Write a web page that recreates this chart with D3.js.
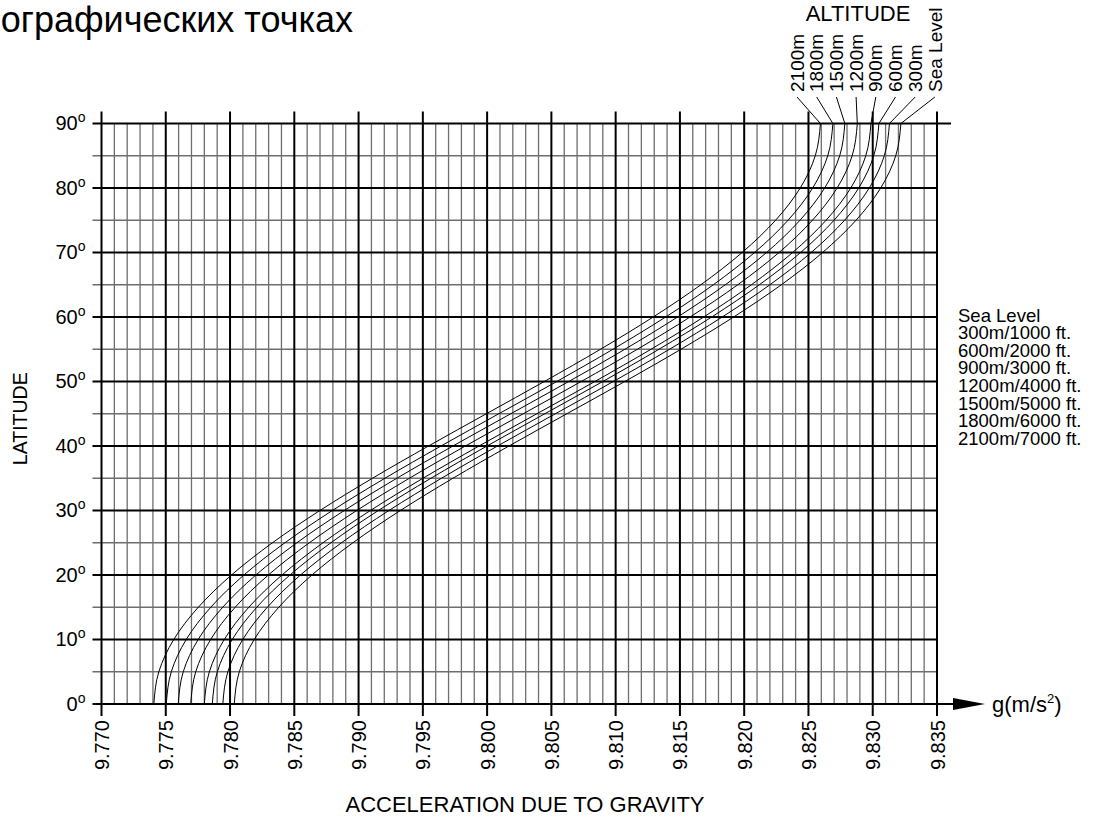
<!DOCTYPE html>
<meta charset="utf-8">
<style>
    body { margin: 0; background: #fff; }
    svg { font-family: "Liberation Sans", Arial, sans-serif; }
    .major { stroke: #000; stroke-width: 2px; }
    .minor { stroke: #6e6e6e; stroke-width: 1.3px; }
    .curve { fill: none; stroke: #000; stroke-width: 1px; }
    .leader { stroke: #000; stroke-width: 1px; }
</style>
<body>
<svg id="chart" width="1099" height="818"></svg>
<script src="https://d3js.org/d3.v7.min.js"></script>
<script>
    // latitude (deg) at which each curve value was read
    var latitudes = [0, 5, 10, 15, 20, 25, 30, 35, 40, 45, 50, 55, 60, 65, 70, 75, 80, 85, 90];

    // g (m/s2)
    var gSeaLevel = [9.78033, 9.78072, 9.78188, 9.78379, 9.78637, 9.78956, 9.79325, 9.79734, 9.80170, 9.80620, 9.81071, 9.81508, 9.81918, 9.82289, 9.82610, 9.82870, 9.83062, 9.83179, 9.83219];
    var g300  = [9.77944, 9.77983, 9.78099, 9.78290, 9.78548, 9.78867, 9.79236, 9.79645, 9.80081, 9.80531, 9.80982, 9.81419, 9.81829, 9.82200, 9.82521, 9.82781, 9.82973, 9.83090, 9.83130];
    var g600  = [9.77862, 9.77901, 9.78017, 9.78208, 9.78466, 9.78785, 9.79154, 9.79563, 9.79999, 9.80449, 9.80900, 9.81337, 9.81747, 9.82118, 9.82439, 9.82699, 9.82891, 9.83008, 9.83048];
    var g900  = [9.77800, 9.77839, 9.77955, 9.78146, 9.78404, 9.78723, 9.79092, 9.79501, 9.79937, 9.80387, 9.80838, 9.81275, 9.81685, 9.82056, 9.82377, 9.82637, 9.82829, 9.82946, 9.82986];
    var g1200 = [9.77694, 9.77733, 9.77849, 9.78040, 9.78298, 9.78617, 9.78986, 9.79395, 9.79831, 9.80281, 9.80732, 9.81169, 9.81579, 9.81950, 9.82271, 9.82531, 9.82723, 9.82840, 9.82880];
    var g1500 = [9.77597, 9.77636, 9.77752, 9.77943, 9.78201, 9.78520, 9.78889, 9.79298, 9.79734, 9.80184, 9.80635, 9.81072, 9.81482, 9.81853, 9.82174, 9.82434, 9.82626, 9.82743, 9.82783];
    var g1800 = [9.77504, 9.77543, 9.77659, 9.77850, 9.78108, 9.78427, 9.78796, 9.79205, 9.79641, 9.80091, 9.80542, 9.80979, 9.81389, 9.81760, 9.82081, 9.82341, 9.82533, 9.82650, 9.82690];
    var g2100 = [9.77407, 9.77446, 9.77562, 9.77753, 9.78011, 9.78330, 9.78699, 9.79108, 9.79544, 9.79994, 9.80445, 9.80882, 9.81292, 9.81663, 9.81984, 9.82244, 9.82436, 9.82553, 9.82593];

    var altitudeLabels = ["2100m", "1800m", "1500m", "1200m", "900m", "600m", "300m", "Sea Level"];
    var legendLabels = ["Sea Level", "300m/1000 ft.", "600m/2000 ft.", "900m/3000 ft.",
        "1200m/4000 ft.", "1500m/5000 ft.", "1800m/6000 ft.", "2100m/7000 ft."];

    var xTicks = [9.770, 9.775, 9.780, 9.785, 9.790, 9.795, 9.800, 9.805, 9.810, 9.815, 9.820, 9.825, 9.830, 9.835];
    var yTicks = [0, 10, 20, 30, 40, 50, 60, 70, 80, 90];

    var curves = [g2100, g1800, g1500, g1200, g900, g600, g300, gSeaLevel];

    var svg = d3.select("#chart");

    var x = d3.scaleLinear().domain([9.770, 9.835]).range([101.5, 937]);
    var y = d3.scaleLinear().domain([0, 90]).range([704, 123.5]);

    var x0 = x.range()[0], x1 = x.range()[1];

    // minor grid: every 0.001 and every 5 degrees
    var xMinor = d3.ticks(9.770, 9.835, 65).filter(function(d) {
        return Math.abs(Math.round(d * 1000) % 5) !== 0;
    });
    var yMinor = d3.range(5, 90, 10);

    var grid = svg.append("g");
    grid.selectAll(".vminor")
        .data(xMinor)
        .enter().append("line")
        .attr("class", "minor")
        .attr("x1", function(d) { return x(d); })
        .attr("x2", function(d) { return x(d); })
        .attr("y1", y(0))
        .attr("y2", y(90));

    grid.selectAll(".hminor")
        .data(yMinor)
        .enter().append("line")
        .attr("class", "minor")
        .attr("x1", x0 - 9)
        .attr("x2", x1)
        .attr("y1", function(d) { return y(d); })
        .attr("y2", function(d) { return y(d); });

    grid.selectAll(".hmajor")
        .data(yTicks)
        .enter().append("line")
        .attr("class", "major")
        .attr("x1", x0 - 9)
        .attr("x2", function(d) { return d === 90 ? x1 + 14 : (d === 0 ? x1 + 20 : x1); })
        .attr("y1", function(d) { return y(d); })
        .attr("y2", function(d) { return y(d); });

    grid.selectAll(".vmajor")
        .data(xTicks)
        .enter().append("line")
        .attr("class", "major")
        .attr("x1", function(d) { return x(d); })
        .attr("x2", function(d) { return x(d); })
        .attr("y1", y(90) - 12)
        .attr("y2", y(0) + 12);

    // arrow at the end of the g axis
    svg.append("path")
        .attr("d", "M" + (x1 + 16) + "," + (y(0) - 6) + "L" + (x1 + 48) + "," + y(0) + "L" + (x1 + 16) + "," + (y(0) + 6) + "Z")
        .attr("fill", "#000");

    var gLabel = svg.append("text")
        .attr("x", x1 + 55)
        .attr("y", y(0) + 8)
        .style("font-size", "22px")
        .text("g(m/s");
    gLabel.append("tspan").attr("dy", -9).style("font-size", "13px").text("2");
    gLabel.append("tspan").attr("dy", 9).style("font-size", "22px").text(")");

    // curves
    var line = d3.line()
        .x(function(d) { return x(d[0]); })
        .y(function(d) { return y(d[1]); })
        .curve(d3.curveMonotoneY);

    svg.append("g").selectAll("path")
        .data(curves)
        .enter().append("path")
        .attr("class", "curve")
        .attr("d", function(g) { return line(g.map(function(v, i) { return [v, latitudes[i]]; })); });

    // x axis labels
    var xAxis = d3.axisBottom(x).tickValues(xTicks).tickSize(0).tickFormat(d3.format(".3f"));
    var gx = svg.append("g")
        .attr("transform", "translate(0," + y(0) + ")")
        .call(xAxis);
    gx.select(".domain").remove();
    gx.selectAll("text")
        .attr("transform", "rotate(-90)")
        .attr("text-anchor", "end")
        .attr("x", -16)
        .attr("y", 0)
        .attr("dy", ".35em")
        .attr("fill", "#000")
        .style("font-size", "20px")
        .style("font-family", "Liberation Sans, Arial, sans-serif");

    // y axis labels, degree drawn as a small raised "o"
    var yAxis = d3.axisLeft(y).tickValues(yTicks).tickSize(0).tickPadding(16)
        .tickFormat(function(d) { return d; });
    var gy = svg.append("g")
        .attr("transform", "translate(" + x0 + ",0)")
        .call(yAxis);
    gy.select(".domain").remove();
    gy.selectAll("text")
        .attr("fill", "#000")
        .style("font-size", "20px")
        .style("font-family", "Liberation Sans, Arial, sans-serif")
        .append("tspan")
        .attr("dy", "-0.6em")
        .style("font-size", "14px")
        .text("o");

    // altitude labels with leaders to the top of each curve
    var labelX = function(i) { return 797 + i * 19.7; };
    svg.append("g").selectAll("line")
        .data(curves)
        .enter().append("line")
        .attr("class", "leader")
        .attr("x1", function(d, i) { return labelX(i); })
        .attr("y1", 97)
        .attr("x2", function(d) { return x(d[d.length - 1]); })
        .attr("y2", y(90));

    svg.append("g").selectAll("text")
        .data(altitudeLabels)
        .enter().append("text")
        .attr("transform", function(d, i) { return "translate(" + labelX(i) + ",92) rotate(-90)"; })
        .attr("dy", ".35em")
        .style("font-size", "19px")
        .text(function(d) { return d; });

    svg.append("text")
        .attr("x", 858)
        .attr("y", 21)
        .attr("text-anchor", "middle")
        .style("font-size", "22px")
        .text("ALTITUDE");

    // legend
    svg.append("g").selectAll("text")
        .data(legendLabels)
        .enter().append("text")
        .attr("x", 958)
        .attr("y", function(d, i) { return 321.5 + i * 17.6; })
        .style("font-size", "18.5px")
        .text(function(d) { return d; });

    // titles
    svg.append("text")
        .attr("transform", "translate(27," + ((y(0) + y(90)) / 2 + 5) + ") rotate(-90)")
        .attr("text-anchor", "middle")
        .style("font-size", "19.5px")
        .text("LATITUDE");

    svg.append("text")
        .attr("x", 525)
        .attr("y", 812)
        .attr("text-anchor", "middle")
        .style("font-size", "22px")
        .text("ACCELERATION DUE TO GRAVITY");

    svg.append("text")
        .attr("x", 353)
        .attr("y", 32)
        .attr("text-anchor", "end")
        .style("font-size", "36px")
        .text("ографических точках");
</script>
</body>
